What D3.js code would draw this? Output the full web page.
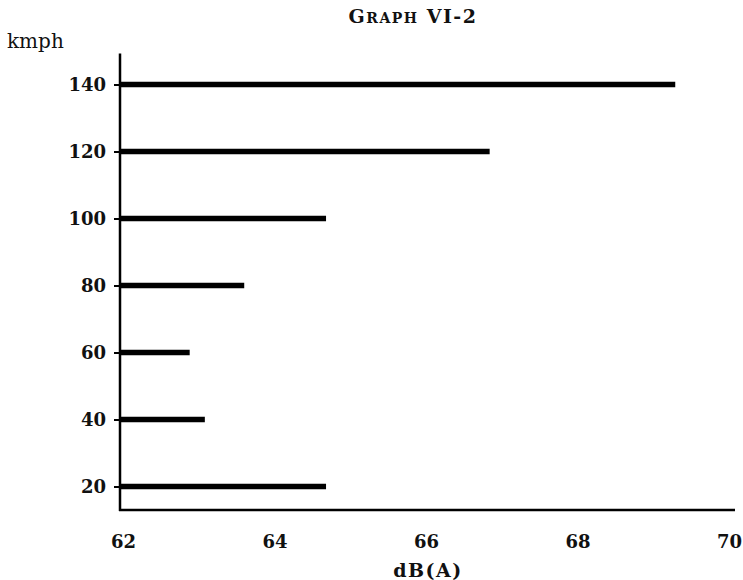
<!DOCTYPE html>
<html>

<head>
    <meta charset="utf-8">
    <style>
        body {
            margin: 0;
            background: #fff;
        }

        svg text {
            font-family: "DejaVu Serif", serif;
        }

        .y .domain,
        .x .domain {
            display: none;
        }

        .y .tick line {
            stroke: #000;
            stroke-width: 2px;
        }

        .x .tick line {
            display: none;
        }

        .y .tick text,
        .x .tick text {
            font-family: "DejaVu Serif", serif;
            font-size: 18px;
            font-weight: bold;
            fill: #111;
        }
    </style>
</head>

<body>
    <svg width="743" height="580"></svg>

    <script src="https://d3js.org/d3.v7.min.js"></script>

    <script>
        // speeds (kmph) and noise level
        const speeds = [20, 40, 60, 80, 100, 120, 140]
        const levels = [64.72, 63.12, 62.92, 63.64, 64.72, 66.88, 69.33]
        const xTicks = [62, 64, 66, 68, 70]
        const yTicks = [20, 40, 60, 80, 100, 120, 140]

        let data = speeds.map((s, i) => ({ speed: s, level: levels[i] }))

        let svg = d3.select("svg")

        let x = d3.scaleLinear()
            .domain([62, 70])
            .range([120, 726])

        let y = d3.scaleLinear()
            .domain([20, 140])
            .range([486.5, 84.5])

        let axisBottomY = 510

        // title, small caps done by hand
        let title = svg.append("text")
            .attr("x", 413)
            .attr("y", 23)
            .attr("text-anchor", "middle")
            .style("font-weight", "bold")
            .style("letter-spacing", "1.5px")
            .style("fill", "#111")
        title.append("tspan").style("font-size", "19px").text("G")
        title.append("tspan").style("font-size", "14px").text("RAPH")
        title.append("tspan").style("font-size", "19px").text(" VI-2")

        svg.append("text")
            .attr("x", 7)
            .attr("y", 48)
            .style("font-family", "'DejaVu Serif', serif")
            .style("font-size", "20px")
            .style("fill", "#111")
            .text("kmph")

        // axes
        let yAxisSettings = d3.axisLeft(y)
            .tickValues(yTicks)
            .tickSize(6)
            .tickPadding(8)

        let xAxisSettings = d3.axisBottom(x)
            .tickValues(xTicks)
            .tickSize(0)
            .tickPadding(25)
            .tickFormat(d3.format("d"))

        svg.append("g")
            .attr("class", "y axis")
            .attr("transform", `translate(${x(62)},0)`)
            .call(yAxisSettings)

        svg.append("g")
            .attr("class", "x axis")
            .attr("transform", `translate(0,${axisBottomY})`)
            .call(xAxisSettings)
            .selectAll(".tick text")
            .attr("dx", 3)

        // bars as thick horizontal strokes
        svg.append("g")
            .selectAll(".bar")
            .data(data)
            .join("line")
            .attr("class", "bar")
            .attr("x1", x(62))
            .attr("x2", d => x(d.level))
            .attr("y1", d => y(d.speed))
            .attr("y2", d => y(d.speed))
            .style("stroke", "#000")
            .style("stroke-width", "5.5px")

        // axis lines drawn on top
        svg.append("line")
            .attr("x1", x(62))
            .attr("x2", x(62))
            .attr("y1", y(140) - 31)
            .attr("y2", axisBottomY + 1)
            .style("stroke", "#000")
            .style("stroke-width", "2.5px")

        svg.append("line")
            .attr("x1", x(62) - 1)
            .attr("x2", x(70) + 9)
            .attr("y1", axisBottomY)
            .attr("y2", axisBottomY)
            .style("stroke", "#000")
            .style("stroke-width", "2.5px")

        svg.append("text")
            .attr("x", 428)
            .attr("y", 577)
            .attr("text-anchor", "middle")
            .style("font-size", "19px")
            .style("font-weight", "bold")
            .style("letter-spacing", "1.5px")
            .style("fill", "#111")
            .text("dB(A)")
    </script>
</body>

</html>
